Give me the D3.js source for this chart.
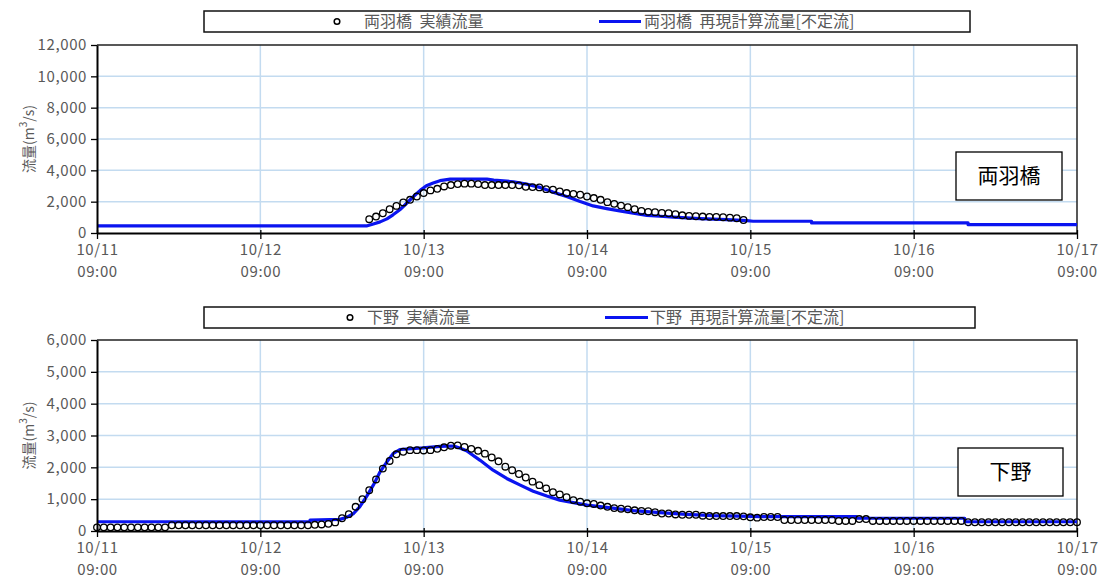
<!DOCTYPE html>
<html>
<head>
<meta charset="utf-8">
<script src="https://cdn.jsdelivr.net/npm/d3@7"></script>
<style>
  body { margin: 0; background: #fff; }
  svg text { font-family: "Noto Sans CJK JP", "Noto Sans", sans-serif; }
</style>
</head>
<body>
<svg id="chart" width="1104" height="581"></svg>
<script>
// ---- time axis (hours after 10/11 09:00) ----
const dayHours = [0, 24, 48, 72, 96, 120, 144];
const dayLabels = ["10/11", "10/12", "10/13", "10/14", "10/15", "10/16", "10/17"];
const timeLabel = "09:00";

// ---- 両羽橋 ----
const ryouTicks = [0, 2000, 4000, 6000, 8000, 10000, 12000];
const ryouObsStart = 40; // hourly observations from this hour
const ryouObs = [880, 1050, 1260, 1520, 1730, 1950, 2120, 2330, 2550, 2720, 2820, 2970, 3060, 3120,
  3150, 3150, 3120, 3060, 3060, 3060, 3060, 3060, 3040, 2950, 2930, 2910, 2800, 2760, 2650, 2550,
  2500, 2440, 2330, 2230, 2120, 1970, 1860, 1750, 1650, 1520, 1410, 1350, 1330, 1280, 1260, 1200,
  1130, 1090, 1070, 1050, 1030, 1030, 1010, 980, 940, 830];
const ryouCalcHours = [0, 39.6, 40.6, 41.6, 42.6, 43.5, 44.5, 45.5, 46.5, 47.5, 48.4, 49.4, 50.4, 51.9,
  57.3, 58.3, 61.2, 63.1, 65.1, 67, 69, 71, 72.9, 74.9, 76.8, 78.8, 80.8, 82.7, 84.7, 88.6, 92.5,
  95.5, 96.4, 105, 105, 128, 128, 144];
const ryouCalc = [450, 450, 580, 710, 900, 1160, 1480, 1900, 2330, 2720, 3020, 3190, 3340, 3440,
  3440, 3380, 3270, 3120, 2910, 2610, 2330, 2010, 1730, 1560, 1410, 1260, 1130, 1070, 1010, 920, 860,
  790, 750, 750, 640, 640, 530, 530];

// ---- 下野 ----
const shimoTicks = [0, 1000, 2000, 3000, 4000, 5000, 6000];
const shimoObsStart = 0;
const shimoObs = [
  115, 115, 115, 115, 115, 115, 115, 115, 115, 115, 115,
  180, 180, 180, 180, 180, 180, 180, 180, 180, 180, 180, 180, 180, 180, 180, 180, 180, 180, 180, 180, 180,
  195, 205, 225, 270,
  400, 530, 760, 1000, 1280, 1620, 1960, 2200, 2410, 2490, 2540, 2540, 2530, 2540, 2580, 2630, 2680,
  2690, 2640, 2580, 2520, 2430, 2310, 2190, 2020, 1910, 1790, 1680, 1550, 1440, 1340, 1220, 1150,
  1060, 970, 920, 870, 850, 800, 760, 720, 700, 680, 650, 630, 620, 590, 550, 550, 520, 510, 510,
  510, 480, 470, 470, 470, 470, 470, 460, 430, 420,
  440, 440, 440,
  345, 345, 345, 345, 345, 345, 345, 345,
  315, 315, 315,
  375, 375,
  315, 315, 315, 315, 315, 315, 315, 315, 315, 315, 315, 315, 315, 315,
  275, 275, 275, 275, 275, 275, 275, 275, 275, 275, 275, 275, 275, 275, 275, 275, 275];
const shimoCalcHours = [0, 31.3, 31.3, 35.7, 36.7, 37.7, 38.6, 39.6, 40.6, 41.6, 42.6, 43.5, 44.5,
  47.9, 50.4, 52.4, 53.3, 54.3, 56.3, 58.2, 60.2, 62.2, 64.1, 66.1, 68, 70, 72, 74.9, 78.8, 82.7,
  86.6, 90.6, 94.5, 97.4, 111.6, 111.6, 127.5, 127.5, 144];
const shimoCalc = [290, 290, 340, 365, 430, 550, 760, 1080, 1440, 1860, 2170, 2430, 2560,
  2610, 2660, 2670, 2610, 2520, 2220, 1910, 1650, 1440, 1250, 1100, 970, 890, 815, 740, 640, 575,
  520, 480, 470, 450, 450, 400, 400, 290, 290];

// ---- styles ----
const GRAY = "#595959";
const GRID = "#c3dbf0";
const BLUE = "#0a14f0";

const svg = d3.select("#chart");

function panel(cfg) {
  const x = d3.scaleLinear().domain([0, 144]).range([97, 1077]);
  const y = d3.scaleLinear().domain([0, cfg.yMax]).range([cfg.bottom, cfg.top]);
  const g = svg.append("g");

  // grid
  g.append("g").selectAll("line").data(cfg.ticks.slice(1, -1)).join("line")
    .attr("x1", x(0)).attr("x2", x(144)).attr("y1", d => y(d)).attr("y2", d => y(d))
    .attr("stroke", GRID).attr("stroke-width", 1.5);
  g.append("g").selectAll("line").data(dayHours.slice(1, -1)).join("line")
    .attr("y1", y(0)).attr("y2", y(cfg.yMax)).attr("x1", d => x(d)).attr("x2", d => x(d))
    .attr("stroke", GRID).attr("stroke-width", 1.5);

  // frame top / right
  g.append("path")
    .attr("d", `M${x(0)},${y(cfg.yMax)}H${x(144)}V${y(0)}`)
    .attr("fill", "none").attr("stroke", "#222").attr("stroke-width", 1.5);

  // calculated flow line
  const pts = cfg.calcHours.map((h, i) => [h, cfg.calc[i]]);
  g.append("path").datum(pts)
    .attr("d", d3.line().x(d => x(d[0])).y(d => y(d[1])))
    .attr("fill", "none").attr("stroke", BLUE).attr("stroke-width", 3.2)
    .attr("stroke-linejoin", "round");

  // observed flow markers
  g.append("g").selectAll("circle").data(cfg.obs).join("circle")
    .attr("cx", (d, i) => x(cfg.obsStart + i)).attr("cy", d => y(d)).attr("r", 3.3)
    .attr("fill", "none").attr("stroke", "#000").attr("stroke-width", 1.3);

  // y axis
  const ya = g.append("g").attr("transform", `translate(${x(0)},0)`)
    .call(d3.axisLeft(y).tickValues(cfg.ticks).tickFormat(d3.format(",")).tickSize(6).tickSizeOuter(0));
  ya.select(".domain").attr("stroke", "#000").attr("stroke-width", 2);
  ya.selectAll(".tick line").attr("stroke", "#000").attr("stroke-width", 1.3);
  ya.selectAll(".tick text").attr("fill", GRAY).attr("font-size", 15)
    .attr("letter-spacing", 0.6).attr("x", -10);

  // x axis
  const xa = g.append("g").attr("transform", `translate(0,${y(0)})`)
    .call(d3.axisBottom(x).tickValues(dayHours).tickFormat((d, i) => dayLabels[i]).tickSize(6).tickSizeOuter(0));
  xa.select(".domain").attr("stroke", "#000").attr("stroke-width", 2);
  xa.selectAll(".tick line").attr("stroke", "#000").attr("stroke-width", 1.3).attr("y1", -3);
  xa.selectAll(".tick text").each(function () {
    const t = d3.select(this);
    const label = t.text();
    t.text(null).attr("fill", GRAY).attr("font-size", 15).attr("letter-spacing", 0.6)
      .attr("y", 0).attr("dy", null);
    t.append("tspan").attr("x", 0).attr("y", 22).text(label);
    t.append("tspan").attr("x", 0).attr("y", 44).text(timeLabel);
  });

  // y axis title
  const ty = g.append("text")
    .attr("transform", `translate(34,${(cfg.top + cfg.bottom) / 2}) rotate(-90)`)
    .attr("text-anchor", "middle").attr("fill", GRAY).attr("font-size", 14);
  ty.append("tspan").text("流量(m");
  ty.append("tspan").attr("baseline-shift", "super").attr("font-size", 10).text("3");
  ty.append("tspan").text("/s)");

  // legend
  const lg = cfg.legend;
  g.append("rect").attr("x", lg.x).attr("y", lg.y).attr("width", lg.w).attr("height", lg.h)
    .attr("fill", "#fff").attr("stroke", "#111").attr("stroke-width", 1.5);
  const ly = lg.y + lg.h / 2;
  g.append("circle").attr("cx", lg.markX).attr("cy", ly).attr("r", 2.8)
    .attr("fill", "none").attr("stroke", "#000").attr("stroke-width", 1.5);
  g.append("text").attr("x", lg.obsTextX).attr("y", ly).attr("dy", "0.35em")
    .attr("fill", GRAY).attr("font-size", 16).attr("word-spacing", 4).text(cfg.obsName);
  g.append("line").attr("x1", lg.lineX1).attr("x2", lg.lineX2).attr("y1", ly).attr("y2", ly)
    .attr("stroke", BLUE).attr("stroke-width", 3);
  g.append("text").attr("x", lg.calcTextX).attr("y", ly).attr("dy", "0.35em")
    .attr("fill", GRAY).attr("font-size", 16).attr("word-spacing", 4).text(cfg.calcName);

  // station label
  const sb = cfg.station;
  g.append("rect").attr("x", sb.x).attr("y", sb.y).attr("width", sb.w).attr("height", sb.h)
    .attr("fill", "#fff").attr("stroke", "#000").attr("stroke-width", 1.3);
  g.append("text").attr("x", sb.x + sb.w / 2).attr("y", sb.y + sb.h / 2).attr("dy", "0.35em")
    .attr("text-anchor", "middle").attr("fill", "#000").attr("font-size", 21).text(cfg.stationName);
}

panel({
  top: 45, bottom: 233, yMax: 12000, ticks: ryouTicks,
  obs: ryouObs, obsStart: ryouObsStart, calc: ryouCalc, calcHours: ryouCalcHours,
  obsName: "両羽橋 実績流量", calcName: "両羽橋 再現計算流量[不定流]", stationName: "両羽橋",
  legend: { x: 204, y: 11, w: 766, h: 21, markX: 337, obsTextX: 364, lineX1: 599, lineX2: 641, calcTextX: 644 },
  station: { x: 956, y: 152, w: 106, h: 48 }
});

panel({
  top: 340, bottom: 531, yMax: 6000, ticks: shimoTicks,
  obs: shimoObs, obsStart: shimoObsStart, calc: shimoCalc, calcHours: shimoCalcHours,
  obsName: "下野 実績流量", calcName: "下野 再現計算流量[不定流]", stationName: "下野",
  legend: { x: 204, y: 307, w: 771, h: 21, markX: 350, obsTextX: 367, lineX1: 605, lineX2: 648, calcTextX: 650 },
  station: { x: 958, y: 448, w: 105, h: 48 }
});
</script>
</body>
</html>
